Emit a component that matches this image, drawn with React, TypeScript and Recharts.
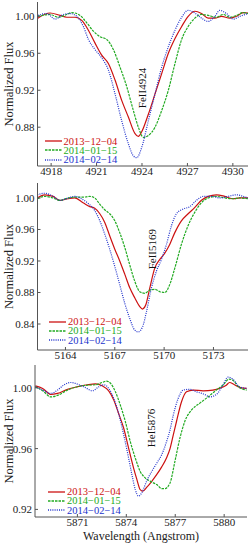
import React from "react";
import { LineChart, Line, XAxis, YAxis, Legend, ReferenceDot } from "recharts";

type Pt = [number, number];

const FONT = "'Liberation Serif', 'Times New Roman', serif";

// observation dates and their line styles
const dates = ["2013−12−04", "2014−01−15", "2014−02−14"];
const colors = ["#cc1111", "#22aa22", "#2233cc"];
const dashes = [undefined, "2.5 1", "1 1.2"];

// --- FeII 4924 ---
const fe4924XTicks = [4918, 4921, 4924, 4927, 4930];
const fe4924YTicks = [0.88, 0.92, 0.96, 1.0];
const fe4924_a: Pt[] = [
  [4917.12, 0.998], [4917.93, 1.0036], [4918.59, 1.001], [4919.03, 0.999], [4919.58, 0.999],
  [4920.02, 0.9956], [4920.46, 0.985], [4920.9, 0.971], [4921.34, 0.958], [4921.78, 0.949],
  [4922.22, 0.931], [4922.66, 0.909], [4923.1, 0.891], [4923.54, 0.873], [4923.76, 0.87],
  [4923.98, 0.875], [4924.42, 0.894], [4924.86, 0.916], [4925.3, 0.938], [4925.74, 0.96],
  [4926.18, 0.976], [4926.62, 0.989], [4927.05, 1.0], [4927.49, 1.0055], [4927.93, 1.003],
  [4928.37, 0.998], [4928.81, 0.998], [4929.25, 1.0], [4929.8, 0.998], [4930.24, 1.0],
  [4930.68, 1.004], [4931.0, 1.0036],
];
const fe4924_b: Pt[] = [
  [4917.12, 1.0], [4917.93, 1.002], [4918.48, 0.999], [4919.03, 1.002], [4919.36, 1.004],
  [4919.91, 1.001], [4920.35, 0.993], [4920.79, 0.984], [4921.23, 0.978], [4921.67, 0.975],
  [4922.11, 0.964], [4922.55, 0.945], [4922.99, 0.924], [4923.43, 0.898], [4923.76, 0.88],
  [4924.09, 0.869], [4924.42, 0.871], [4924.86, 0.88], [4925.3, 0.898], [4925.74, 0.92],
  [4926.18, 0.949], [4926.62, 0.975], [4927.05, 0.989], [4927.49, 0.998], [4927.93, 1.002],
  [4928.37, 1.001], [4928.92, 0.999], [4929.36, 1.002], [4929.8, 0.999], [4930.24, 1.001],
  [4930.68, 1.004], [4931.0, 1.003],
];
const fe4924_c: Pt[] = [
  [4917.12, 1.001], [4917.71, 1.003], [4918.26, 0.997], [4918.81, 1.002], [4919.25, 1.003],
  [4919.69, 1.0], [4920.13, 0.989], [4920.46, 0.975], [4920.9, 0.964], [4921.34, 0.955],
  [4921.78, 0.942], [4922.22, 0.916], [4922.66, 0.887], [4923.1, 0.862], [4923.43, 0.849],
  [4923.65, 0.847], [4923.98, 0.858], [4924.42, 0.887], [4924.86, 0.916], [4925.3, 0.945],
  [4925.74, 0.967], [4926.18, 0.985], [4926.62, 0.999], [4927.05, 1.0065], [4927.49, 1.0036],
  [4927.93, 0.998], [4928.37, 0.9945], [4928.81, 1.0], [4929.14, 1.0065], [4929.58, 1.003],
  [4930.02, 0.997], [4930.46, 1.0], [4931.0, 1.003],
];

// --- FeII 5169 ---
const fe5169XTicks = [5164, 5167, 5170, 5173];
const fe5169YTicks = [0.84, 0.88, 0.92, 0.96, 1.0];
const fe5169_a: Pt[] = [
  [5162.29, 1.0], [5162.74, 1.004], [5163.25, 1.002], [5163.65, 0.997], [5164.16, 0.999],
  [5164.56, 1.0], [5165.07, 0.994], [5165.48, 0.989], [5165.78, 0.987], [5166.09, 0.98],
  [5166.39, 0.969], [5166.69, 0.952], [5167.0, 0.935], [5167.3, 0.92], [5167.61, 0.903],
  [5167.91, 0.886], [5168.22, 0.873], [5168.52, 0.862], [5168.68, 0.859], [5168.88, 0.864],
  [5169.13, 0.886], [5169.43, 0.911], [5169.74, 0.922], [5170.04, 0.93], [5170.34, 0.941],
  [5170.65, 0.956], [5171.05, 0.971], [5171.46, 0.98], [5171.87, 0.988], [5172.27, 0.997],
  [5172.68, 1.002], [5173.18, 1.004], [5173.69, 1.002], [5174.2, 0.999], [5174.6, 1.0],
  [5175.1, 1.0],
];
const fe5169_b: Pt[] = [
  [5162.29, 0.999], [5162.74, 1.002], [5163.25, 1.0], [5163.65, 0.997], [5164.16, 1.0],
  [5164.56, 1.001], [5165.07, 1.001], [5165.48, 1.002], [5165.78, 1.0], [5166.09, 0.992],
  [5166.39, 0.985], [5166.69, 0.98], [5167.0, 0.971], [5167.3, 0.956], [5167.61, 0.937],
  [5167.91, 0.915], [5168.22, 0.894], [5168.52, 0.881], [5168.82, 0.879], [5169.13, 0.883],
  [5169.43, 0.884], [5169.74, 0.881], [5170.04, 0.88], [5170.34, 0.89], [5170.65, 0.911],
  [5171.05, 0.941], [5171.46, 0.965], [5171.87, 0.982], [5172.27, 0.994], [5172.68, 1.0],
  [5173.18, 1.002], [5173.69, 1.0], [5174.2, 0.999], [5174.6, 1.0], [5175.1, 0.999],
];
const fe5169_c: Pt[] = [
  [5162.29, 1.004], [5162.74, 1.006], [5163.25, 1.002], [5163.65, 0.997], [5164.16, 1.0],
  [5164.56, 1.002], [5164.97, 0.999], [5165.38, 0.993], [5165.78, 0.984], [5166.09, 0.971],
  [5166.39, 0.954], [5166.69, 0.935], [5167.0, 0.913], [5167.3, 0.89], [5167.61, 0.866],
  [5167.91, 0.847], [5168.22, 0.832], [5168.42, 0.83], [5168.68, 0.836], [5168.93, 0.856],
  [5169.23, 0.886], [5169.53, 0.907], [5169.84, 0.922], [5170.14, 0.941], [5170.45, 0.965],
  [5170.75, 0.98], [5171.16, 0.986], [5171.56, 0.989], [5171.97, 0.997], [5172.37, 1.002],
  [5172.88, 1.002], [5173.39, 1.0], [5173.89, 1.002], [5174.4, 1.004], [5174.81, 1.002],
  [5175.1, 1.0],
];

// --- HeI 5876 ---
const he5876XTicks = [5871, 5874, 5877, 5880];
const he5876YTicks = [0.92, 0.96, 1.0];
const he5876_a: Pt[] = [
  [5868.42, 1.0013], [5868.87, 0.9996], [5869.38, 0.9956], [5869.78, 0.9963], [5870.39, 0.999],
  [5871.0, 1.0007], [5871.61, 1.002], [5872.11, 1.0026], [5872.52, 1.0013], [5872.92, 0.998],
  [5873.23, 0.992], [5873.53, 0.983], [5873.84, 0.9734], [5874.14, 0.9603], [5874.45, 0.947],
  [5874.65, 0.9396], [5874.85, 0.933], [5875.01, 0.932], [5875.26, 0.9346], [5875.56, 0.9385],
  [5875.87, 0.943], [5876.17, 0.948], [5876.47, 0.954], [5876.68, 0.96], [5876.88, 0.969],
  [5877.08, 0.978], [5877.39, 0.991], [5877.69, 0.9974], [5878.1, 0.9985], [5878.71, 0.998],
  [5879.31, 0.9985], [5879.72, 0.9996], [5880.13, 1.0017], [5880.33, 1.0035], [5880.63, 1.002],
  [5881.04, 1.0], [5881.38, 0.9996],
];
const he5876_b: Pt[] = [
  [5868.42, 1.0007], [5868.87, 0.998], [5869.38, 0.994], [5869.78, 0.995], [5870.39, 0.9985],
  [5871.0, 1.0007], [5871.61, 1.0017], [5872.11, 1.002], [5872.52, 1.0035], [5872.78, 1.0044],
  [5873.03, 1.003], [5873.33, 0.9974], [5873.63, 0.9887], [5873.94, 0.9778], [5874.24, 0.9647],
  [5874.55, 0.9538], [5874.85, 0.945], [5875.16, 0.9407], [5875.56, 0.938], [5875.87, 0.9363],
  [5876.17, 0.9337], [5876.37, 0.9337], [5876.68, 0.9374], [5876.98, 0.9516], [5877.29, 0.967],
  [5877.59, 0.978], [5878.0, 0.9854], [5878.5, 0.9898], [5879.01, 0.994], [5879.52, 0.9985],
  [5879.92, 1.0017], [5880.29, 1.0057], [5880.53, 1.005], [5880.94, 1.0], [5881.38, 0.9985],
];
const he5876_c: Pt[] = [
  [5868.42, 1.0007], [5868.87, 0.9985], [5869.38, 0.9963], [5869.78, 0.9985], [5870.19, 1.002],
  [5870.59, 1.0035], [5871.1, 1.002], [5871.51, 1.0], [5871.91, 0.998], [5872.32, 1.0007],
  [5872.62, 1.002], [5872.92, 0.9996], [5873.23, 0.993], [5873.53, 0.983], [5873.84, 0.969],
  [5874.14, 0.9538], [5874.34, 0.943], [5874.55, 0.933], [5874.75, 0.9287], [5874.95, 0.931],
  [5875.26, 0.939], [5875.56, 0.945], [5875.87, 0.9505], [5876.17, 0.956], [5876.47, 0.9647],
  [5876.68, 0.9723], [5876.88, 0.982], [5877.18, 0.993], [5877.49, 0.9985], [5877.89, 0.999],
  [5878.3, 0.9974], [5878.81, 0.9956], [5879.11, 0.994], [5879.52, 0.9956], [5879.92, 1.0017],
  [5880.23, 1.007], [5880.53, 1.0057], [5880.94, 1.0007], [5881.38, 0.9996],
];

const toRows = (pts: Pt[]) => pts.map(([w, f]) => ({ w, f }));

function LegendBox({ payload }: any) {
  return (
    <div style={{ fontFamily: FONT, fontSize: 10.5 }}>
      {(payload || []).map((p: any, i: number) => (
        <div key={p.value} style={{ display: "flex", alignItems: "center", height: 9.3, color: p.color }}>
          <svg width={17} height={4} style={{ marginRight: 2, flex: "none" }}>
            <line x1={0} y1={2} x2={17} y2={2} stroke={p.color} strokeWidth={1.3}
              strokeDasharray={p.payload?.strokeDasharray ?? dashes[i]} />
          </svg>
          <span style={{ lineHeight: "9.3px", whiteSpace: "nowrap" }}>{p.value}</span>
        </div>
      ))}
    </div>
  );
}

interface PanelProps {
  top: number;
  height: number;
  axisWidth: number;
  right: number;
  xAxisHeight: number;
  xDomain: [number, number];
  yDomain: [number, number];
  xTicks: number[];
  yTicks: number[];
  series: Pt[][];
  line: string;
  lineAt: [number, number];
  legendAt: { left: number; top: number };
  xTitle?: string;
}

const tickStyle = { fontSize: 11, fill: "#222", fontFamily: FONT };
const frame = "#555";

function Panel(p: PanelProps) {
  return (
    <div style={{ position: "absolute", left: 0, top: p.top }}>
      <LineChart width={249} height={p.height} margin={{ top: 2, right: p.right, bottom: 0, left: 0 }}>
        <XAxis dataKey="w" type="number" domain={p.xDomain} allowDataOverflow ticks={p.xTicks} interval={0}
          height={p.xAxisHeight} stroke={frame} tickSize={-3} tickMargin={4} tick={tickStyle}
          label={p.xTitle ? { value: p.xTitle, position: "insideBottom", offset: 4, fontSize: 12, fill: "#222", fontFamily: FONT } : undefined} />
        <XAxis xAxisId="top" orientation="top" type="number" domain={p.xDomain} allowDataOverflow ticks={p.xTicks}
          interval={0} height={0} stroke={frame} tickSize={-3} tick={false} />
        <YAxis type="number" domain={p.yDomain} allowDataOverflow ticks={p.yTicks} interval={0} width={p.axisWidth}
          stroke={frame} tickSize={-3} tickMargin={6} tick={tickStyle} tickFormatter={(v: number) => v.toFixed(2)}
          label={{ value: "Normalized Flux", angle: -90, position: "insideLeft", offset: 8.5, fontSize: 12.5, fill: "#222", fontFamily: FONT, style: { textAnchor: "middle" } }} />
        <YAxis yAxisId="right" orientation="right" type="number" domain={p.yDomain} allowDataOverflow ticks={p.yTicks}
          interval={0} width={0} stroke={frame} tickSize={-3} tick={false} />
        {p.series.map((pts, i) => (
          <Line key={dates[i]} data={toRows(pts)} dataKey="f" name={dates[i]} type="monotone" stroke={colors[i]}
            strokeWidth={1.2} strokeDasharray={dashes[i]} dot={false} activeDot={false} isAnimationActive={false} />
        ))}
        <ReferenceDot x={p.lineAt[0]} y={p.lineAt[1]} r={0} fill="none" stroke="none"
          label={{ value: p.line, angle: -90, position: "center", fontSize: 11, fill: "#111", fontFamily: FONT }} />
        <Legend layout="vertical" align="center" verticalAlign="middle" content={<LegendBox />}
          wrapperStyle={{ left: p.legendAt.left, top: p.legendAt.top, width: "auto", height: "auto" }} />
      </LineChart>
    </div>
  );
}

export default function App() {
  return (
    <div style={{ position: "absolute", left: 0, top: 0, width: 249, height: 544, background: "#fff", fontFamily: FONT }}>
      <Panel top={0} height={184} axisWidth={37.5} right={1} xAxisHeight={18}
        xDomain={[4917.1, 4931.0]} yDomain={[0.838, 1.0155]} xTicks={fe4924XTicks} yTicks={fe4924YTicks}
        series={[fe4924_a, fe4924_b, fe4924_c]} line="FeII4924" lineAt={[4924.0, 0.9224]}
        legendAt={{ left: 44.5, top: 136.5 }} />
      <Panel top={181} height={187} axisWidth={37.5} right={1} xAxisHeight={18}
        xDomain={[5162.3, 5175.1]} yDomain={[0.807, 1.019]} xTicks={fe5169XTicks} yTicks={fe5169YTicks}
        series={[fe5169_a, fe5169_b, fe5169_c]} line="FeII5169" lineAt={[5169.24, 0.935]}
        legendAt={{ left: 49, top: 136 }} />
      <Panel top={363} height={181} axisWidth={35} right={2} xAxisHeight={27}
        xDomain={[5868.4, 5881.4]} yDomain={[0.915, 1.015]} xTicks={he5876XTicks} yTicks={he5876YTicks}
        series={[he5876_a, he5876_b, he5876_c]} line="HeI5876" lineAt={[5875.5, 0.9736]}
        legendAt={{ left: 48, top: 124 }} xTitle="Wavelength (Angstrom)" />
    </div>
  );
}
